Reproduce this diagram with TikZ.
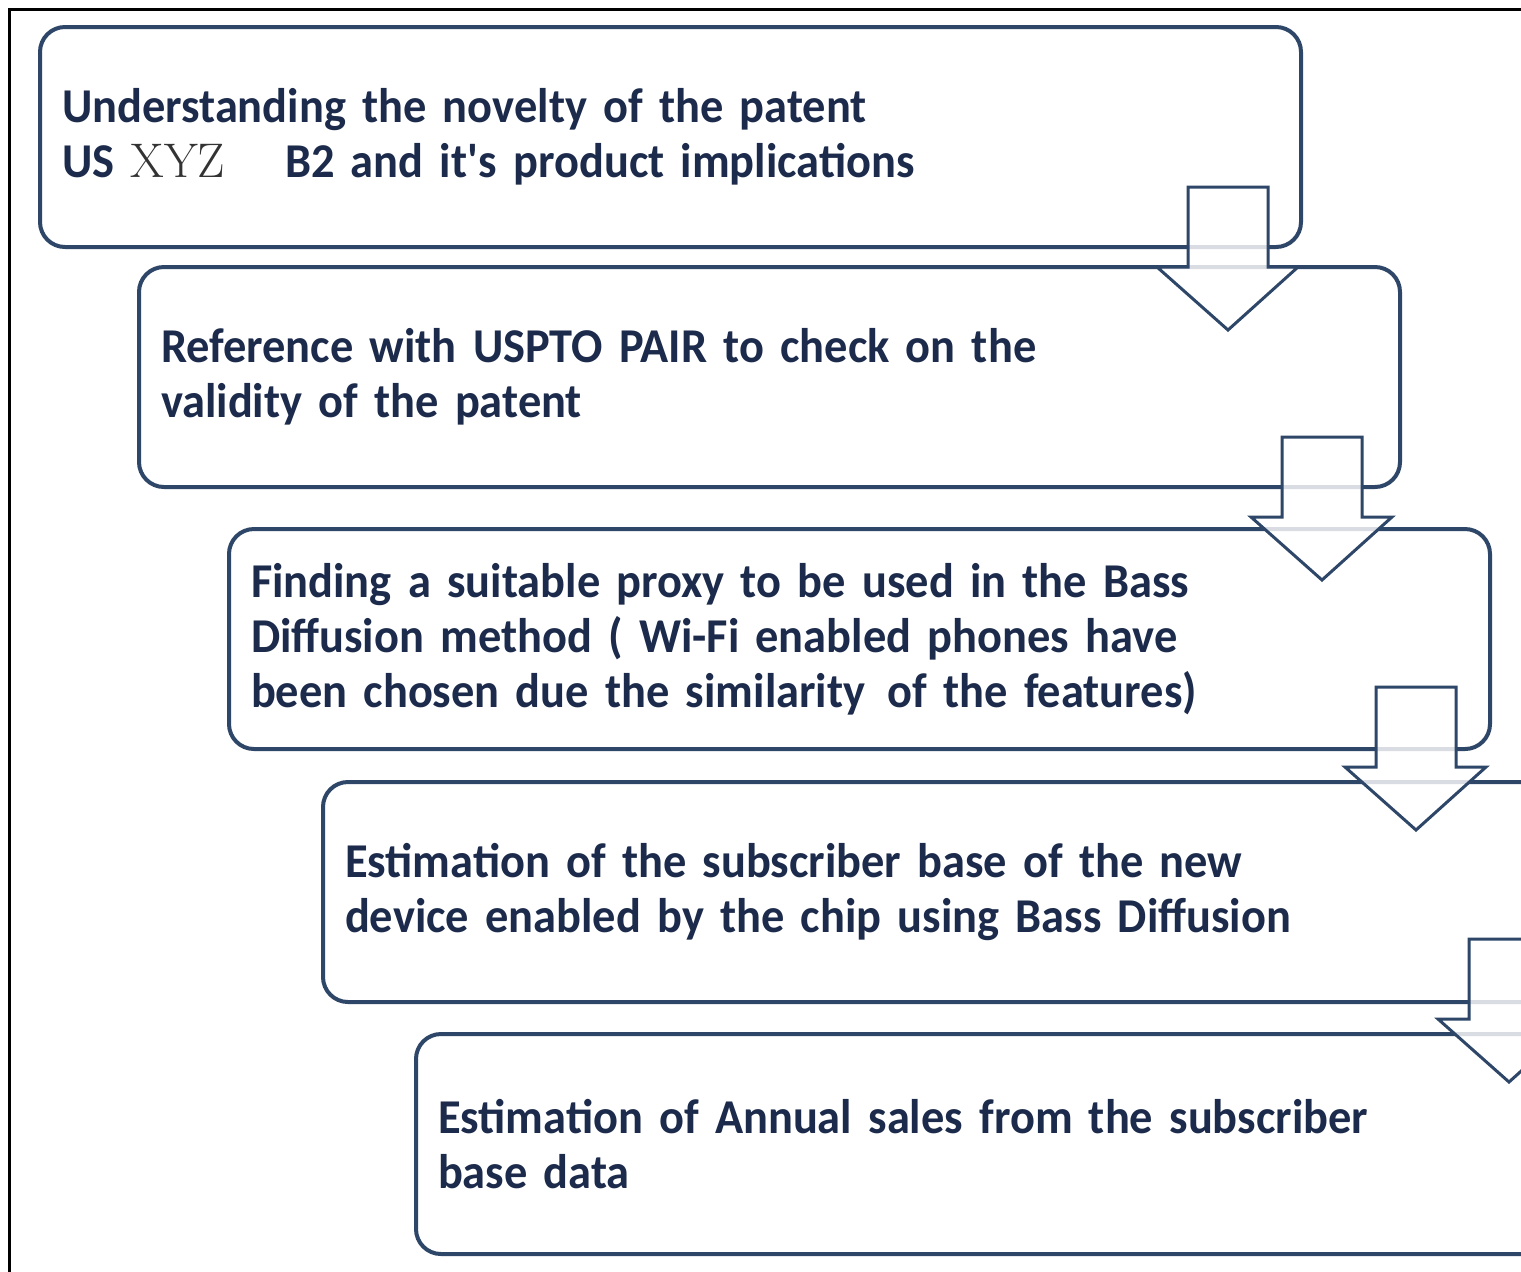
\documentclass[tikz,border=0pt]{standalone}
\usepackage{fontspec}
\setsansfont{Carlito}[WordSpace=0.5,FakeStretch=0.955]
\definecolor{boxline}{HTML}{2E4668}
\definecolor{boxtext}{HTML}{1C2B4B}
\definecolor{serifgray}{HTML}{333333}
\begin{document}
\begin{tikzpicture}[x=0.5pt,y=-0.5pt,
  stepbox/.style={draw=boxline, line width=2pt, rounded corners=12.5pt, fill=white,
    anchor=north west, minimum height=110pt, text width=608.5pt, inner xsep=11pt, inner ysep=0pt,
    align=left, text=boxtext, font=\sffamily\bfseries\fontsize{24.3}{27.5}\selectfont},
  arrowstyle/.style={draw=boxline, line width=1.5pt, fill=white, fill opacity=0.82, line join=miter},
  downarrow/.pic={\draw[arrowstyle] (0,0) -- (80,0) -- (80,80) -- (110,80) -- (40,143) -- (-31,80) -- (0,80) -- cycle;}
]
\useasboundingbox (0,0) rectangle (1521,1271);
\clip (0,0) rectangle (1521,1271);
\fill[white] (0,0) rectangle (1521,1271);
\draw[black, line width=1.5pt] (9,1275) -- (9,9) -- (1525,9);
\node[stepbox] (b1) at (38,25) {Understanding the novelty of the patent\\US {\rmfamily\mdseries\color{serifgray}XYZ}\hspace{30pt}B2 and it\textquotesingle s product implications};
\node[stepbox] (b2) at (137,265) {Reference with USPTO PAIR to check on the\\validity of the patent};
\node[stepbox] (b3) at (227,527) {Finding a suitable proxy to be used in the Bass\\Diffusion method ( Wi-Fi enabled phones have\\been chosen due the similarity\hspace{3pt} of the features)};
\node[stepbox] (b4) at (321,780) {Estimation of the subscriber base of the new\\device enabled by the chip using Bass Diffusion};
\node[stepbox] (b5) at (414,1032) {Estimation of Annual sales from the subscriber\\base data};
\pic at (1188,187) {downarrow};
\pic at (1282,437) {downarrow};
\pic at (1376,687) {downarrow};
\pic at (1469,939) {downarrow};
\end{tikzpicture}
\end{document}
